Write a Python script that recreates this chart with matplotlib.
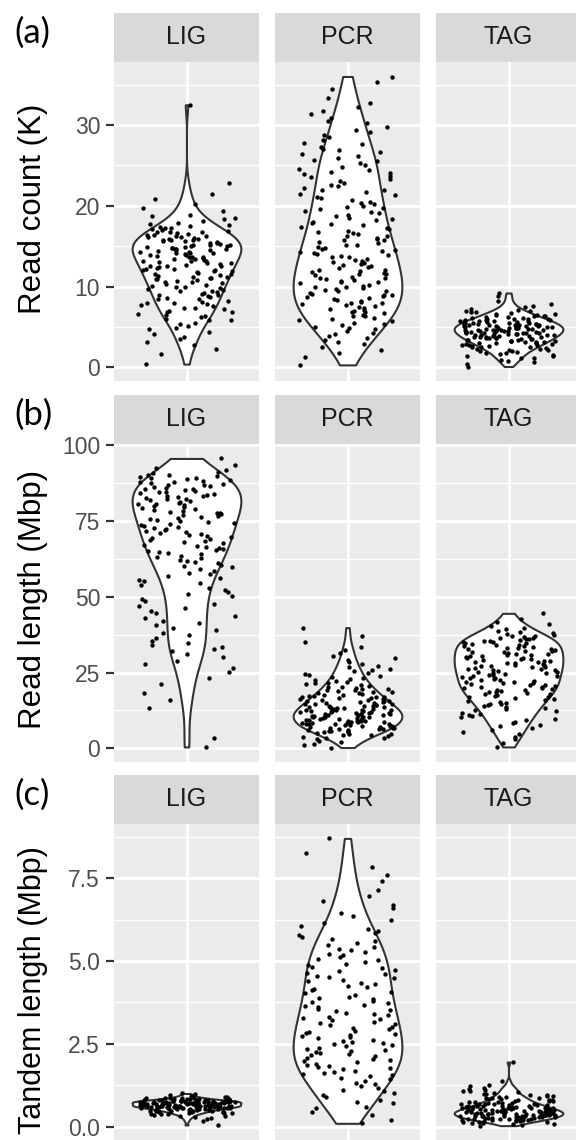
import numpy as np
import matplotlib.pyplot as plt

W, H = 576, 1140
groups = ['LIG', 'PCR', 'TAG']

# (a) read count (K)
lig_a = [0.4, 1.6, 2.3, 2.8, 3.1, 3.5, 3.8, 4.1, 4.4, 4.7, 4.9, 5.1, 5.3, 5.5, 5.8, 5.9,
         6.0, 6.2, 6.3, 6.5, 6.6, 6.8, 6.9, 7.0, 7.2, 7.3, 7.4, 7.6, 7.7, 7.8, 7.9, 8.0,
         8.1, 8.2, 8.4, 8.5, 8.6, 8.7, 8.8, 8.9, 9.0, 9.1, 9.2, 9.3, 9.4, 9.5, 9.6, 9.7,
         9.8, 9.9, 10.0, 10.1, 10.2, 10.3, 10.4, 10.5, 10.6, 10.7, 10.8, 10.9, 10.9, 11.0,
         11.1, 11.2, 11.2, 11.3, 11.4, 11.5, 11.6, 11.7, 11.8, 11.9, 11.9, 12.0, 12.1, 12.2,
         12.2, 12.3, 12.4, 12.5, 12.6, 12.6, 12.7, 12.8, 12.9, 12.9, 13.0, 13.1, 13.1, 13.2,
         13.3, 13.4, 13.4, 13.5, 13.6, 13.7, 13.7, 13.8, 13.9, 13.9, 14.0, 14.1, 14.1, 14.2,
         14.3, 14.3, 14.4, 14.5, 14.5, 14.6, 14.7, 14.7, 14.8, 14.8, 14.9, 14.9, 15.0, 15.0,
         15.1, 15.2, 15.2, 15.3, 15.4, 15.4, 15.5, 15.6, 15.6, 15.7, 15.8, 15.8, 15.9, 15.9,
         16.0, 16.1, 16.1, 16.2, 16.3, 16.4, 16.4, 16.5, 16.6, 16.7, 16.8, 16.8, 16.9, 17.0,
         17.1, 17.2, 17.3, 17.4, 17.5, 17.6, 17.8, 17.9, 18.1, 18.3, 18.5, 18.7, 18.9, 19.3,
         19.7, 20.2, 20.8, 21.4, 22.8, 32.5]
pcr_a = [0.3, 1.3, 1.8, 2.2, 2.5, 2.9, 3.1, 3.4, 3.6, 3.9, 4.1, 4.3, 4.5, 4.7, 4.9, 5.0,
         5.2, 5.4, 5.5, 5.7, 5.9, 6.0, 6.1, 6.3, 6.4, 6.5, 6.7, 6.8, 6.9, 7.0, 7.1, 7.2,
         7.4, 7.5, 7.6, 7.7, 7.8, 7.9, 8.0, 8.1, 8.2, 8.3, 8.5, 8.6, 8.7, 8.8, 8.9, 9.0,
         9.1, 9.2, 9.4, 9.5, 9.6, 9.7, 9.8, 9.9, 10.0, 10.1, 10.2, 10.4, 10.5, 10.6, 10.7,
         10.8, 10.9, 11.0, 11.1, 11.2, 11.4, 11.5, 11.6, 11.7, 11.8, 11.9, 12.0, 12.1, 12.3,
         12.4, 12.5, 12.7, 12.8, 12.9, 13.0, 13.2, 13.3, 13.4, 13.6, 13.7, 13.8, 13.9, 14.0,
         14.1, 14.3, 14.4, 14.5, 14.7, 14.8, 14.9, 15.1, 15.2, 15.4, 15.5, 15.7, 15.8, 15.9,
         16.0, 16.2, 16.3, 16.5, 16.6, 16.8, 16.9, 17.1, 17.2, 17.4, 17.6, 17.7, 17.9, 18.0,
         18.2, 18.4, 18.5, 18.7, 18.9, 19.1, 19.2, 19.4, 19.6, 19.7, 19.9, 20.0, 20.2, 20.4,
         20.5, 20.7, 20.9, 21.1, 21.3, 21.5, 21.7, 21.9, 22.0, 22.2, 22.4, 22.6, 22.8, 23.1,
         23.3, 23.5, 23.7, 23.9, 24.0, 24.2, 24.4, 24.6, 24.8, 25.1, 25.3, 25.5, 25.7, 25.9,
         26.1, 26.4, 26.6, 26.9, 27.0, 27.3, 27.6, 27.8, 28.2, 28.5, 28.8, 29.1, 29.4, 29.8,
         30.2, 30.5, 30.9, 31.3, 31.7, 32.2, 32.7, 33.4, 34.5, 35.3, 36.0]
tag_a = [0.1, 0.4, 0.6, 0.8, 0.9, 1.1, 1.2, 1.35, 1.4, 1.5, 1.6, 1.75, 1.8, 1.9, 2.0, 2.07,
         2.1, 2.2, 2.26, 2.3, 2.4, 2.46, 2.5, 2.54, 2.61, 2.65, 2.7, 2.77, 2.8, 2.86, 2.9,
         2.95, 3.0, 3.03, 3.09, 3.12, 3.17, 3.2, 3.23, 3.29, 3.31, 3.36, 3.41, 3.44, 3.48,
         3.5, 3.52, 3.58, 3.6, 3.64, 3.66, 3.71, 3.73, 3.78, 3.8, 3.84, 3.86, 3.9, 3.94, 3.97,
         4.0, 4.02, 4.07, 4.09, 4.13, 4.15, 4.19, 4.21, 4.23, 4.28, 4.3, 4.34, 4.36, 4.38,
         4.42, 4.46, 4.48, 4.5, 4.52, 4.57, 4.58, 4.62, 4.64, 4.66, 4.7, 4.72, 4.74, 4.78,
         4.81, 4.83, 4.85, 4.89, 4.92, 4.94, 4.97, 5.0, 5.02, 5.06, 5.1, 5.12, 5.14, 5.18,
         5.2, 5.24, 5.27, 5.29, 5.33, 5.37, 5.39, 5.41, 5.45, 5.49, 5.51, 5.54, 5.58, 5.61,
         5.63, 5.68, 5.7, 5.76, 5.79, 5.81, 5.86, 5.88, 5.93, 5.96, 6.01, 6.04, 6.11, 6.14,
         6.2, 6.26, 6.29, 6.36, 6.41, 6.46, 6.52, 6.56, 6.65, 6.7, 6.79, 6.84, 6.93, 7.02,
         7.11, 7.24, 7.42, 7.61, 7.87, 8.2, 8.8, 9.2]

# (b) read length (Mbp)
lig_b = [0.5, 3.5, 13.4, 15.8, 18.1, 21.3, 23.2, 25.1, 26.4, 27.7, 28.9, 30.2, 31.1, 32.0,
         32.8, 33.4, 34.0, 34.6, 35.4, 36.3, 37.2, 38.1, 38.9, 39.6, 40.5, 41.3, 42.1, 42.9,
         43.7, 44.5, 45.2, 46.1, 46.8, 47.7, 48.5, 49.3, 50.1, 50.8, 51.5, 52.2, 53.0, 53.7,
         54.4, 55.1, 55.6, 56.2, 56.8, 57.3, 57.9, 58.5, 59.0, 59.6, 60.1, 60.5, 61.0, 61.4,
         61.8, 62.2, 62.6, 63.1, 63.5, 63.9, 64.3, 64.7, 65.0, 65.4, 65.7, 66.1, 66.4, 66.8,
         67.1, 67.5, 67.9, 68.2, 68.6, 68.9, 69.3, 69.7, 70.0, 70.3, 70.7, 71.0, 71.4, 71.7,
         72.0, 72.4, 72.7, 73.0, 73.4, 73.7, 74.0, 74.4, 74.7, 75.0, 75.3, 75.6, 75.9, 76.2,
         76.5, 76.8, 77.1, 77.4, 77.7, 78.0, 78.3, 78.6, 78.9, 79.2, 79.5, 79.8, 80.1, 80.4,
         80.6, 80.9, 81.2, 81.4, 81.7, 82.0, 82.3, 82.5, 82.8, 83.1, 83.3, 83.6, 83.9, 84.1,
         84.4, 84.6, 84.9, 85.1, 85.4, 85.6, 85.9, 86.1, 86.4, 86.6, 86.9, 87.1, 87.4, 87.6,
         87.9, 88.1, 88.4, 88.6, 88.9, 89.1, 89.4, 89.6, 89.9, 90.2, 90.6, 91.1, 91.7, 92.4,
         93.3, 95.5]
pcr_b = [0.3, 1.0, 1.6, 2.2, 2.6, 3.0, 3.3, 3.6, 3.9, 4.1, 4.3, 4.5, 4.7, 4.9, 5.1, 5.3,
         5.5, 5.6, 5.8, 5.9, 6.0, 6.1, 6.3, 6.4, 6.5, 6.6, 6.8, 6.9, 7.0, 7.1, 7.3, 7.4,
         7.5, 7.7, 7.8, 7.9, 8.0, 8.1, 8.2, 8.3, 8.4, 8.5, 8.6, 8.7, 8.8, 8.9, 9.0, 9.1,
         9.2, 9.3, 9.4, 9.5, 9.6, 9.8, 9.9, 10.0, 10.1, 10.2, 10.3, 10.4, 10.5, 10.6, 10.7,
         10.8, 10.9, 11.0, 11.1, 11.2, 11.3, 11.4, 11.5, 11.6, 11.7, 11.8, 11.9, 12.0, 12.1,
         12.2, 12.3, 12.4, 12.5, 12.6, 12.7, 12.8, 12.9, 13.0, 13.2, 13.3, 13.4, 13.5, 13.7,
         13.8, 13.9, 14.0, 14.1, 14.3, 14.4, 14.5, 14.7, 14.8, 14.9, 15.1, 15.2, 15.3, 15.5,
         15.6, 15.7, 15.9, 16.0, 16.2, 16.3, 16.5, 16.6, 16.8, 16.9, 17.1, 17.2, 17.4, 17.5,
         17.7, 17.9, 18.1, 18.3, 18.5, 18.7, 18.9, 19.1, 19.3, 19.5, 19.7, 19.9, 20.1, 20.4,
         20.6, 20.9, 21.1, 21.4, 21.6, 21.9, 22.2, 22.5, 22.8, 23.2, 23.5, 23.8, 24.2, 24.6,
         25.0, 25.4, 25.8, 26.3, 26.8, 27.3, 27.8, 28.4, 29.0, 29.7, 30.6, 31.5, 32.3, 33.4,
         34.9, 37.0, 39.8]
tag_b = [0.5, 1.8, 3.0, 3.9, 4.7, 5.4, 6.1, 6.7, 7.3, 7.8, 8.3, 8.8, 9.3, 9.8, 10.2, 10.6,
         11.0, 11.4, 11.8, 12.2, 12.6, 12.9, 13.2, 13.6, 13.9, 14.2, 14.5, 14.8, 15.1, 15.4,
         15.6, 15.9, 16.2, 16.5, 16.8, 17.0, 17.3, 17.6, 17.8, 18.0, 18.3, 18.5, 18.7, 18.9,
         19.1, 19.3, 19.6, 19.8, 20.0, 20.2, 20.4, 20.6, 20.8, 21.0, 21.2, 21.4, 21.6, 21.8,
         22.0, 22.3, 22.5, 22.7, 22.9, 23.1, 23.3, 23.5, 23.7, 23.9, 24.1, 24.3, 24.5, 24.7,
         24.9, 25.1, 25.3, 25.5, 25.7, 25.9, 26.1, 26.3, 26.5, 26.7, 26.9, 27.1, 27.2, 27.4,
         27.6, 27.8, 28.0, 28.2, 28.4, 28.6, 28.8, 28.9, 29.1, 29.3, 29.5, 29.7, 29.9, 30.1,
         30.3, 30.5, 30.7, 30.9, 31.0, 31.2, 31.4, 31.6, 31.8, 32.0, 32.2, 32.4, 32.6, 32.8,
         33.0, 33.2, 33.4, 33.6, 33.8, 34.0, 34.2, 34.4, 34.6, 34.8, 34.9, 35.1, 35.3, 35.5,
         35.7, 35.9, 36.1, 36.3, 36.5, 36.7, 36.9, 37.1, 37.4, 37.6, 38.0, 38.4, 38.8, 39.2,
         39.7, 40.3, 41.0, 41.8, 42.6, 44.5]

# (c) tandem length (Mbp)
lig_c = [0.05, 0.16, 0.22, 0.26, 0.29, 0.31, 0.33, 0.35, 0.37, 0.38, 0.39, 0.40, 0.41, 0.42,
         0.43, 0.43, 0.44, 0.45, 0.46, 0.46, 0.47, 0.48, 0.48, 0.49, 0.49, 0.50, 0.50, 0.51,
         0.51, 0.52, 0.52, 0.53, 0.53, 0.54, 0.54, 0.54, 0.55, 0.55, 0.55, 0.56, 0.56, 0.56,
         0.57, 0.57, 0.57, 0.58, 0.58, 0.58, 0.59, 0.59, 0.59, 0.60, 0.60, 0.60, 0.60, 0.61,
         0.61, 0.61, 0.61, 0.62, 0.62, 0.62, 0.62, 0.63, 0.63, 0.63, 0.63, 0.64, 0.64, 0.64,
         0.64, 0.65, 0.65, 0.65, 0.65, 0.66, 0.66, 0.66, 0.66, 0.67, 0.67, 0.67, 0.67, 0.68,
         0.68, 0.68, 0.69, 0.69, 0.69, 0.70, 0.70, 0.70, 0.70, 0.71, 0.71, 0.71, 0.71, 0.72,
         0.72, 0.72, 0.72, 0.73, 0.73, 0.73, 0.73, 0.74, 0.74, 0.74, 0.74, 0.75, 0.75, 0.75,
         0.75, 0.76, 0.76, 0.76, 0.76, 0.77, 0.77, 0.77, 0.77, 0.78, 0.78, 0.78, 0.78, 0.79,
         0.79, 0.79, 0.79, 0.80, 0.80, 0.81, 0.81, 0.82, 0.82, 0.83, 0.83, 0.84, 0.85, 0.85,
         0.86, 0.87, 0.87, 0.88, 0.89, 0.91, 0.93, 0.95, 0.97, 1.00]
pcr_c = [0.1, 0.2, 0.35, 0.45, 0.55, 0.6, 0.7, 0.75, 0.8, 0.9, 0.95, 1.02, 1.08, 1.12, 1.18,
         1.22, 1.28, 1.33, 1.38, 1.43, 1.48, 1.52, 1.55, 1.59, 1.62, 1.66, 1.69, 1.73, 1.76,
         1.8, 1.83, 1.87, 1.9, 1.94, 1.97, 2.02, 2.05, 2.08, 2.12, 2.15, 2.18, 2.22, 2.25,
         2.28, 2.32, 2.35, 2.38, 2.42, 2.45, 2.48, 2.52, 2.55, 2.59, 2.62, 2.66, 2.69, 2.73,
         2.76, 2.8, 2.83, 2.87, 2.9, 2.94, 2.97, 3.02, 3.06, 3.1, 3.13, 3.17, 3.21, 3.25,
         3.28, 3.32, 3.36, 3.4, 3.44, 3.48, 3.52, 3.56, 3.6, 3.64, 3.68, 3.72, 3.76, 3.8,
         3.84, 3.88, 3.92, 3.96, 4.03, 4.07, 4.12, 4.16, 4.21, 4.25, 4.3, 4.34, 4.39, 4.43,
         4.48, 4.52, 4.56, 4.61, 4.65, 4.7, 4.74, 4.79, 4.83, 4.88, 4.92, 4.97, 5.02, 5.07,
         5.12, 5.17, 5.22, 5.27, 5.32, 5.37, 5.42, 5.47, 5.53, 5.6, 5.66, 5.72, 5.78, 5.84,
         5.9, 5.96, 6.05, 6.15, 6.25, 6.35, 6.45, 6.6, 6.7, 6.8, 6.95, 7.15, 7.4, 7.6, 7.85,
         8.25, 8.7]
tag_c = [0.03, 0.05, 0.07, 0.09, 0.11, 0.12, 0.13, 0.14, 0.15, 0.16, 0.17, 0.18, 0.19, 0.19,
         0.20, 0.21, 0.21, 0.22, 0.22, 0.23, 0.23, 0.24, 0.24, 0.25, 0.25, 0.26, 0.26, 0.27,
         0.27, 0.28, 0.28, 0.29, 0.30, 0.30, 0.31, 0.31, 0.31, 0.32, 0.32, 0.33, 0.33, 0.33,
         0.34, 0.34, 0.35, 0.35, 0.35, 0.36, 0.36, 0.37, 0.37, 0.37, 0.38, 0.38, 0.39, 0.39,
         0.40, 0.40, 0.41, 0.41, 0.41, 0.42, 0.42, 0.43, 0.43, 0.43, 0.44, 0.44, 0.45, 0.45,
         0.45, 0.46, 0.46, 0.47, 0.47, 0.47, 0.48, 0.48, 0.49, 0.49, 0.50, 0.50, 0.51, 0.51,
         0.52, 0.52, 0.53, 0.53, 0.54, 0.54, 0.55, 0.55, 0.56, 0.56, 0.57, 0.57, 0.58, 0.58,
         0.59, 0.59, 0.60, 0.61, 0.61, 0.62, 0.63, 0.63, 0.64, 0.65, 0.65, 0.66, 0.67, 0.67,
         0.68, 0.69, 0.69, 0.70, 0.71, 0.72, 0.73, 0.74, 0.75, 0.76, 0.77, 0.78, 0.79, 0.79,
         0.81, 0.82, 0.83, 0.85, 0.86, 0.87, 0.88, 0.89, 0.91, 0.93, 0.94, 0.96, 0.97, 0.99,
         1.02, 1.05, 1.07, 1.09, 1.12, 1.15, 1.18, 1.22, 1.27, 1.38, 1.95]

panel_tags = ['(a)', '(b)', '(c)']
y_titles = ['Read count (K)', 'Read length (Mbp)', 'Tandem length (Mbp)']
row_data = [[lig_a, pcr_a, tag_a], [lig_b, pcr_b, tag_b], [lig_c, pcr_c, tag_c]]
major_ticks = [[0, 10, 20, 30], [0, 25, 50, 75, 100], [0, 2.5, 5.0, 7.5]]
minor_ticks = [[5, 15, 25, 35], [12.5, 37.5, 62.5, 87.5], [1.25, 3.75, 6.25, 8.75]]
tick_labels = [['0', '10', '20', '30'], ['0', '25', '50', '75', '100'],
               ['0.0', '2.5', '5.0', '7.5']]

# layout in pixels
col_x = [114, 275, 436]
col_w = 145
strip_top = [13, 395, 775]
strip_h = 49
panel_bottom = [381, 762, 1140]
title_y = [209, 599, 990]
title_size = [22.5, 22.5, 22]
tick_size = [16.5, 16.5, 16.5]
adjust = 0.8  # violin bandwidth adjustment


def rect(x0, y0, x1, y1):
    return [x0 / W, 1 - y1 / H, (x1 - x0) / W, (y1 - y0) / H]


def nrd0_factor(v):
    # ggplot's default bandwidth, as a factor of the sample sd
    v = np.asarray(v)
    sd = v.std(ddof=1)
    q75, q25 = np.percentile(v, [75, 25])
    h = 0.9 * min(sd, (q75 - q25) / 1.34) * len(v) ** -0.2
    return adjust * h / sd


fig = plt.figure(figsize=(W / 100, H / 100), dpi=100)
rng = np.random.default_rng(3)  # horizontal jitter only

for r in range(3):
    allv = np.concatenate([np.asarray(v) for v in row_data[r]])
    lo, hi = allv.min(), allv.max()
    pad = 0.05 * (hi - lo)
    for c in range(3):
        x0 = col_x[c]
        ax = fig.add_axes(rect(x0, strip_top[r] + strip_h, x0 + col_w, panel_bottom[r]))
        ax.set_facecolor('#EBEBEB')
        for s in ax.spines.values():
            s.set_visible(False)
        vals = np.asarray(row_data[r][c])
        parts = ax.violinplot([vals], positions=[1], widths=0.9, showextrema=False,
                              bw_method=nrd0_factor(vals))
        for b in parts['bodies']:
            b.set_facecolor('white')
            b.set_edgecolor('#333333')
            b.set_linewidth(1.5)
            b.set_alpha(1)
            b.set_zorder(2)
        jit = rng.uniform(-0.4, 0.4, len(vals))
        ax.scatter(1 + jit, vals, s=10, color='black', linewidths=0, zorder=3)
        ax.set_xlim(0.4, 1.6)
        ax.set_ylim(lo - pad, hi + pad)
        ax.set_xticks([1])
        ax.set_yticks(major_ticks[r])
        ax.set_yticks(minor_ticks[r], minor=True)
        ax.grid(which='major', color='white', linewidth=2.0)
        ax.grid(which='minor', color='white', linewidth=1.0)
        ax.set_axisbelow(True)
        ax.tick_params(axis='x', length=0, labelbottom=False)
        ax.tick_params(axis='y', which='minor', length=0)
        if c == 0:
            ax.set_yticklabels(tick_labels[r])
            ax.tick_params(axis='y', which='major', length=5.5, width=1.6, color='#333333',
                           pad=4.5, labelcolor='#4D4D4D', labelsize=tick_size[r])
            for t in ax.get_yticklabels():
                t.set_fontfamily('Liberation Sans')
        else:
            ax.tick_params(axis='y', which='major', length=0, labelleft=False)

        sax = fig.add_axes(rect(x0, strip_top[r], x0 + col_w, strip_top[r] + strip_h))
        sax.set_facecolor('#D9D9D9')
        sax.set_xticks([])
        sax.set_yticks([])
        for s in sax.spines.values():
            s.set_visible(False)
        sax.text(0.5, 0.5, groups[c], ha='center', va='center', fontsize=18,
                 color='#1A1A1A', family='Liberation Sans', transform=sax.transAxes)

    fig.text(33 / W, 1 - title_y[r] / H, y_titles[r], rotation=90, ha='center',
             va='center', fontsize=title_size[r], family='Liberation Sans', color='black')
    fig.text(14 / W, 1 - (strip_top[r] + 20) / H, panel_tags[r], ha='left', va='center',
             fontsize=25, family='Lato', color='black')

fig.savefig('out.png', dpi=100)
